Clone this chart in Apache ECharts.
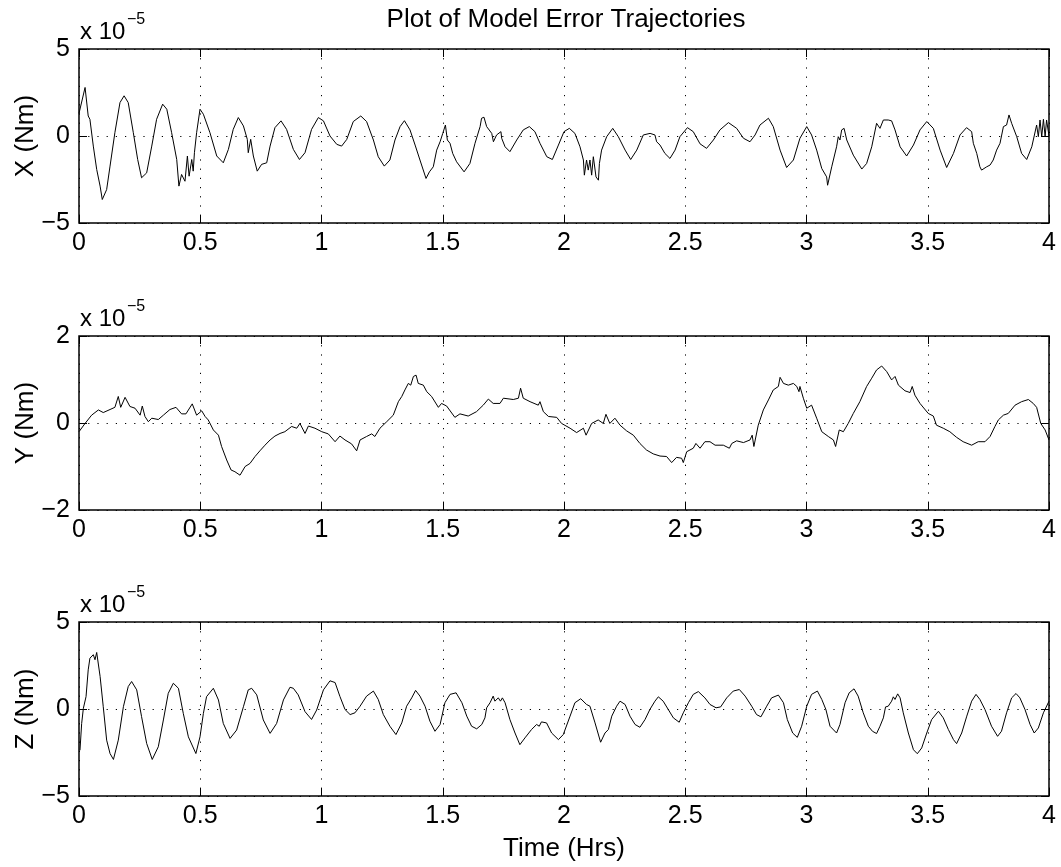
<!DOCTYPE html>
<html>
<head>
<meta charset="utf-8">
<script src="https://cdn.jsdelivr.net/npm/echarts@6/dist/echarts.min.js"></script>
<style>
html,body{margin:0;padding:0;background:#fff;}
#chart{width:1061px;height:867px;}
</style>
</head>
<body>
<div id="chart"></div>
<script>
// Values are in units of 1e-5 Nm (axes show "x 10^-5")
const chartTitle = 'Plot of Model Error Trajectories';
const xAxisTitle = 'Time (Hrs)';
const panelNames = ['X (Nm)', 'Y (Nm)', 'Z (Nm)'];
const xTicks = [0, 0.5, 1, 1.5, 2, 2.5, 3, 3.5, 4];
const yLimits = [[-5, 5], [-2, 2], [-5, 5]];

const tX = [0,0.004,0.025,0.038,0.045,0.059,0.073,0.087,0.096,0.114,0.128,0.148,0.169,0.186,0.203,0.224,0.242,0.258,0.279,0.300,0.320,0.345,0.362,0.382,0.403,0.412,0.423,0.437,0.447,0.454,0.465,0.471,0.476,0.485,0.499,0.513,0.540,0.568,0.595,0.616,0.636,0.657,0.678,0.694,0.698,0.708,0.719,0.735,0.753,0.774,0.788,0.808,0.833,0.856,0.884,0.909,0.932,0.959,0.987,1.008,1.035,1.063,1.083,1.104,1.131,1.162,1.186,1.214,1.234,1.259,1.282,1.303,1.324,1.342,1.365,1.386,1.406,1.431,1.445,1.461,1.475,1.489,1.500,1.511,1.519,1.530,1.541,1.557,1.588,1.612,1.633,1.654,1.660,1.670,1.681,1.702,1.709,1.722,1.740,1.743,1.757,1.777,1.805,1.832,1.857,1.880,1.901,1.929,1.952,1.977,2.000,2.022,2.045,2.066,2.080,2.084,2.093,2.100,2.107,2.114,2.121,2.132,2.142,2.146,2.155,2.176,2.201,2.224,2.252,2.275,2.300,2.327,2.355,2.375,2.382,2.396,2.416,2.437,2.458,2.478,2.509,2.533,2.561,2.588,2.616,2.643,2.678,2.712,2.740,2.767,2.788,2.808,2.843,2.863,2.891,2.918,2.946,2.973,3.001,3.021,3.042,3.063,3.083,3.087,3.104,3.124,3.131,3.138,3.145,3.155,3.166,3.193,3.228,3.248,3.269,3.289,3.303,3.317,3.337,3.351,3.365,3.386,3.413,3.441,3.468,3.496,3.523,3.551,3.578,3.606,3.633,3.660,3.681,3.688,3.702,3.715,3.722,3.743,3.757,3.770,3.784,3.798,3.812,3.825,3.835,3.846,3.867,3.887,3.908,3.929,3.949,3.956,3.963,3.970,3.977,3.984,3.990,4.000];
const vX = [1.3,1.35,2.79,1.15,0.96,-0.58,-1.92,-2.88,-3.65,-3.08,-1.73,0.19,1.92,2.31,1.92,0.19,-1.35,-2.40,-2.12,-0.58,0.96,1.83,1.54,0.19,-1.35,-2.88,-2.21,-2.60,-1.15,-2.31,-1.35,-2.02,-0.96,0.19,1.54,1.25,0.19,-1.15,-1.54,-0.77,0.38,1.06,0.58,-0.19,-0.96,-0.19,-1.15,-2.02,-1.63,-1.54,-0.58,0.48,0.87,0.38,-0.77,-1.35,-0.96,0.38,1.06,0.87,0,-0.48,-0.58,-0.2,0.83,1.15,0.83,-0.23,-1.19,-1.73,-1.38,-0.23,0.54,0.88,0.35,-0.52,-1.38,-2.44,-2.06,-1.77,-0.81,-0.33,0.15,0.63,-0.23,-0.42,-1.0,-1.48,-2.06,-1.58,-0.42,0.54,1.02,1.08,0.54,0.15,-0.33,0.06,0.25,-0.13,-0.62,-0.90,-0.23,0.35,0.54,0.25,-0.42,-1.19,-1.35,-0.52,0.25,0.44,0.15,-0.62,-1.38,-2.25,-1.38,-1.96,-1.38,-2.25,-1.19,-2.35,-2.54,-1.58,-0.81,-0.04,0.44,-0.04,-0.81,-1.35,-0.81,0.06,0.15,0.06,-0.33,-0.52,-1.0,-1.29,-0.81,-0.04,0.48,0.25,-0.45,-0.71,-0.23,0.35,0.77,0.44,-0.13,-0.33,0.06,0.63,1.02,0.54,-0.81,-1.81,-1.38,-0.13,0.54,0.06,-0.81,-1.87,-2.35,-2.83,-1.77,-0.62,-0.04,-0.23,0.35,0.44,-0.23,-1.10,-1.90,-1.58,-0.62,0.73,0.44,0.92,0.92,0.87,0.35,-0.62,-1.15,-0.52,0.35,0.83,0.44,-0.81,-1.81,-1.0,0.06,0.48,0.25,-0.42,-1.0,-1.77,-1.96,-1.77,-1.67,-1.38,-0.81,-0.42,0.54,0.63,1.21,0.73,-0.04,-1.0,-1.35,-0.62,0.63,-0.04,0.92,-0.04,0.96,-0.04,0.92,0];

const tY = [0,0.025,0.052,0.080,0.100,0.128,0.148,0.162,0.172,0.190,0.210,0.231,0.252,0.261,0.272,0.286,0.300,0.327,0.348,0.375,0.400,0.423,0.441,0.467,0.485,0.506,0.520,0.533,0.554,0.575,0.588,0.609,0.627,0.643,0.664,0.685,0.705,0.726,0.746,0.767,0.788,0.808,0.829,0.849,0.877,0.898,0.911,0.932,0.946,0.973,1.001,1.028,1.056,1.076,1.097,1.124,1.145,1.159,1.186,1.207,1.220,1.241,1.269,1.296,1.317,1.331,1.344,1.358,1.368,1.379,1.390,1.399,1.420,1.434,1.454,1.482,1.495,1.516,1.550,1.571,1.605,1.639,1.667,1.688,1.708,1.736,1.750,1.791,1.812,1.821,1.832,1.860,1.894,1.901,1.915,1.936,1.970,1.990,2.025,2.052,2.080,2.091,2.114,2.141,2.162,2.173,2.189,2.210,2.231,2.258,2.286,2.313,2.340,2.368,2.396,2.423,2.444,2.464,2.485,2.492,2.506,2.533,2.544,2.561,2.581,2.602,2.623,2.657,2.682,2.692,2.712,2.740,2.767,2.776,2.783,2.801,2.822,2.843,2.863,2.884,2.891,2.905,2.925,2.946,2.960,2.969,2.973,2.987,3.001,3.021,3.042,3.063,3.090,3.111,3.120,3.135,3.152,3.172,3.193,3.220,3.248,3.269,3.289,3.310,3.331,3.351,3.365,3.379,3.406,3.427,3.436,3.447,3.468,3.502,3.523,3.536,3.564,3.591,3.619,3.646,3.681,3.708,3.736,3.757,3.777,3.791,3.812,3.832,3.860,3.887,3.915,3.935,3.949,3.966,3.984,4.000];
const vY = [-0.20,-0.01,0.18,0.30,0.24,0.31,0.36,0.61,0.36,0.59,0.38,0.34,0.18,0.39,0.15,0.03,0.11,0.08,0.18,0.31,0.36,0.21,0.21,0.44,0.18,0.28,0.15,0.07,-0.16,-0.28,-0.54,-0.85,-1.08,-1.12,-1.20,-1.0,-0.93,-0.77,-0.64,-0.51,-0.39,-0.30,-0.24,-0.20,-0.08,-0.12,-0.01,-0.24,-0.07,-0.12,-0.20,-0.25,-0.43,-0.30,-0.39,-0.48,-0.64,-0.39,-0.31,-0.25,-0.31,-0.12,0.03,0.18,0.49,0.61,0.76,0.91,0.87,1.07,1.10,0.91,0.87,0.72,0.61,0.36,0.45,0.39,0.13,0.21,0.16,0.26,0.41,0.55,0.45,0.45,0.57,0.54,0.57,0.80,0.57,0.49,0.41,0.49,0.26,0.15,0.13,-0.01,-0.12,-0.22,-0.12,-0.28,-0.01,0.07,-0.01,0.20,-0.01,0.11,-0.05,-0.18,-0.28,-0.47,-0.62,-0.71,-0.76,-0.77,-0.91,-0.79,-0.81,-0.91,-0.66,-0.58,-0.47,-0.58,-0.43,-0.43,-0.51,-0.51,-0.58,-0.47,-0.41,-0.45,-0.39,-0.28,-0.54,-0.05,0.30,0.53,0.76,0.84,1.05,0.91,0.87,0.91,0.84,0.72,0.84,0.57,0.34,0.41,0.11,-0.20,-0.31,-0.39,-0.54,-0.16,-0.20,-0.01,0.22,0.49,0.84,1.03,1.22,1.31,1.18,0.99,1.07,0.87,0.74,0.70,0.84,0.64,0.45,0.22,0.16,-0.05,-0.12,-0.20,-0.33,-0.43,-0.51,-0.43,-0.43,-0.31,-0.08,0.07,0.18,0.22,0.41,0.49,0.54,0.45,0.36,-0.01,-0.16,-0.39];

const tZ = [0.004,0.011,0.018,0.029,0.038,0.045,0.052,0.059,0.066,0.073,0.087,0.100,0.114,0.128,0.142,0.162,0.183,0.203,0.217,0.238,0.258,0.279,0.302,0.327,0.348,0.368,0.389,0.410,0.430,0.451,0.482,0.499,0.513,0.526,0.554,0.575,0.595,0.623,0.650,0.678,0.698,0.712,0.733,0.760,0.788,0.815,0.843,0.870,0.884,0.904,0.932,0.959,0.980,1.008,1.035,1.056,1.076,1.097,1.118,1.138,1.159,1.186,1.214,1.234,1.255,1.282,1.307,1.331,1.351,1.372,1.388,1.406,1.427,1.447,1.468,1.489,1.509,1.530,1.555,1.579,1.599,1.619,1.640,1.661,1.674,1.681,1.695,1.708,1.715,1.729,1.738,1.746,1.757,1.777,1.798,1.818,1.839,1.866,1.887,1.898,1.907,1.928,1.949,1.977,1.997,2.025,2.045,2.069,2.093,2.107,2.128,2.151,2.169,2.183,2.197,2.217,2.231,2.252,2.272,2.293,2.313,2.334,2.354,2.375,2.389,2.409,2.430,2.451,2.475,2.492,2.513,2.533,2.554,2.581,2.602,2.627,2.646,2.671,2.698,2.723,2.747,2.774,2.794,2.812,2.836,2.856,2.884,2.905,2.921,2.943,2.962,2.980,3.001,3.021,3.045,3.063,3.080,3.097,3.124,3.138,3.159,3.176,3.196,3.213,3.234,3.255,3.272,3.278,3.289,3.303,3.317,3.326,3.337,3.351,3.358,3.365,3.376,3.386,3.399,3.420,3.441,3.457,3.475,3.496,3.516,3.544,3.564,3.585,3.606,3.619,3.640,3.661,3.681,3.699,3.715,3.736,3.763,3.788,3.804,3.825,3.846,3.864,3.880,3.901,3.922,3.939,3.956,3.977,4.000];
const vZ = [-2.37,-0.83,0.04,0.71,2.25,2.92,2.83,3.12,2.83,3.25,1.87,0.13,-1.79,-2.56,-2.90,-1.79,0.13,1.29,1.58,1.10,-0.44,-1.98,-2.90,-2.17,-0.63,0.90,1.48,1.19,-0.25,-1.60,-2.56,-1.60,-0.25,0.71,1.19,0.52,-0.83,-1.69,-1.21,0.13,1.10,1.19,0.81,-0.63,-1.40,-0.83,0.52,1.25,1.19,0.81,-0.15,-0.60,-0.06,1.10,1.62,1.52,0.72,-0.03,-0.32,-0.22,0.16,0.74,1.03,0.55,-0.32,-0.99,-1.47,-0.80,0.16,0.64,1.07,0.74,0.16,-0.70,-1.28,-0.89,0.36,0.84,0.93,0.36,-0.41,-0.99,-1.14,-0.89,-0.51,0.07,0.36,0.74,0.45,0.64,0.45,0.64,0.36,-0.61,-1.38,-2.05,-1.66,-1.18,-0.89,-0.99,-0.74,-0.80,-1.38,-1.76,-1.47,-0.41,0.36,0.59,0.26,0.16,-0.80,-1.91,-1.38,-1.18,-0.41,0.16,0.45,0.26,-0.41,-0.89,-1.05,-0.61,-0.03,0.45,0.70,0.45,-0.03,-0.51,-0.76,-0.22,0.36,0.84,1.0,0.64,0.26,0.07,0.12,0.64,1.03,1.12,0.74,0.16,-0.32,-0.45,0.16,0.64,0.80,0.36,-0.61,-1.38,-1.63,-0.99,0.16,0.84,1.03,0.55,-0.03,-0.99,-1.38,-0.89,0.36,0.93,1.16,0.74,-0.22,-0.99,-1.28,-1.18,-1.41,-0.99,-0.51,0.12,0.16,0.45,0.70,0.55,0.87,0.64,-0.22,-1.38,-2.34,-2.57,-2.24,-1.38,-0.61,-0.13,-0.51,-1.18,-1.76,-1.99,-1.38,-0.41,0.45,0.84,0.55,-0.03,-0.99,-1.57,-1.28,-0.22,0.64,0.89,0.64,-0.03,-0.89,-1.38,-1.09,-0.22,0.45];

const seriesT = [tX, tY, tZ];
const seriesV = [vX, vY, vZ];

const FONT = "'Liberation Sans', Arial, Helvetica, sans-serif";
const gridTops = [49, 336, 622];
const gridH = 174;
const gridLeft = 79, gridRight = 12;

const dotted = { color: '#000', width: 1, type: [1.2, 8] };
const fmtNum = v => String(v).replace('-', '\u2212');
const tickStyle = { show: true, inside: true, length: 8, lineStyle: { color: '#000', width: 1 } };

const option = {
  animation: false,
  backgroundColor: '#fff',
  grid: [], xAxis: [], yAxis: [], series: [], graphic: []
};

for (let i = 0; i < 3; i++) {
  option.grid.push({ left: gridLeft, right: gridRight, top: gridTops[i], height: gridH,
    show: true, borderColor: '#000', borderWidth: 1.5, backgroundColor: 'transparent' });
  const xb = {
    type: 'value', gridIndex: i, position: 'bottom', min: xTicks[0], max: xTicks[xTicks.length - 1], interval: 0.5,
    axisLine: { show: false, onZero: false },
    axisTick: tickStyle,
    axisLabel: { show: true, color: '#000', fontSize: 25, fontFamily: FONT, margin: 8, formatter: fmtNum, showMinLabel: true, showMaxLabel: true },
    splitLine: { show: true, lineStyle: dotted }
  };
  if (i === 2) {
    xb.name = xAxisTitle; xb.nameLocation = 'middle'; xb.nameGap = 40; xb.nameMoveOverlap = false;
    xb.nameTextStyle = { color: '#000', fontSize: 26, fontFamily: FONT };
  }
  option.xAxis.push(xb);
  option.xAxis.push({
    type: 'value', gridIndex: i, position: 'top', min: 0, max: 4, interval: 0.5,
    axisLine: { show: false, onZero: false }, axisLabel: { show: false }, splitLine: { show: false },
    axisTick: tickStyle
  });
  const [ymin, ymax] = yLimits[i];
  option.yAxis.push({
    type: 'value', gridIndex: i, position: 'left', min: ymin, max: ymax, interval: ymax,
    name: panelNames[i], nameLocation: 'middle', nameGap: 40, nameRotate: 90, nameMoveOverlap: false,
    nameTextStyle: { color: '#000', fontSize: 26, fontFamily: FONT },
    axisLine: { show: false, onZero: false },
    axisTick: tickStyle,
    axisLabel: { show: true, color: '#000', fontSize: 25, fontFamily: FONT, margin: 9, formatter: fmtNum },
    splitLine: { show: true, lineStyle: dotted }
  });
  option.yAxis.push({
    type: 'value', gridIndex: i, position: 'right', min: ymin, max: ymax, interval: ymax,
    axisLine: { show: false, onZero: false }, axisLabel: { show: false }, splitLine: { show: false },
    axisTick: tickStyle
  });
  option.series.push({
    type: 'line', xAxisIndex: 2 * i, yAxisIndex: 2 * i,
    data: seriesT[i].map((t, k) => [t, seriesV[i][k]]),
    showSymbol: false, symbol: 'none', clip: true,
    lineStyle: { color: '#000', width: 1 }
  });
  // exponent label "x 10^-5"
  option.graphic.push({
    type: 'text', x: 80, y: gridTops[i] - 17, z: 10,
    style: { text: 'x 10', fill: '#000', font: '24px ' + FONT, textAlign: 'left', textVerticalAlign: 'middle' }
  });
  option.graphic.push({
    type: 'text', x: 127, y: gridTops[i] - 29, z: 10,
    style: { text: '\u22125', fill: '#000', font: '16px ' + FONT, textAlign: 'left', textVerticalAlign: 'middle' }
  });
}

option.graphic.push({
  type: 'text', x: 566, y: 20, z: 10,
  style: { text: chartTitle, fill: '#000', font: '26px ' + FONT, textAlign: 'center', textVerticalAlign: 'middle' }
});

const chart = echarts.init(document.getElementById('chart'), null, { renderer: 'canvas' });
chart.setOption(option);
</script>
</body>
</html>
